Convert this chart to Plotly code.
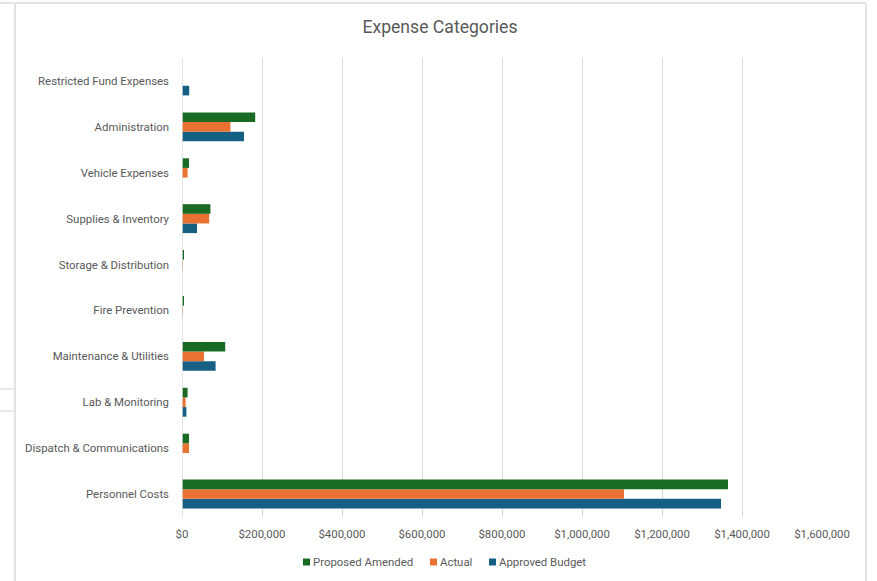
import plotly.graph_objects as go

# Expense categories, bottom to top as drawn on the category axis
categories = [
    "Personnel Costs",
    "Dispatch & Communications",
    "Lab & Monitoring",
    "Maintenance & Utilities",
    "Fire Prevention",
    "Storage & Distribution",
    "Supplies & Inventory",
    "Vehicle Expenses",
    "Administration",
    "Restricted Fund Expenses",
]

approved_budget = [1347500, 0, 11000, 84000, 0, 0, 37500, 0, 155000, 18000]
actual = [1105000, 17500, 9000, 55000, 2500, 2500, 68000, 14000, 121000, 0]
proposed_amended = [1365000, 17500, 14000, 108000, 3000, 3000, 71000, 17500, 183000, 0]

x_ticks = [0, 200000, 400000, 600000, 800000, 1000000, 1200000, 1400000, 1600000]
x_tick_labels = ["$0", "$200,000", "$400,000", "$600,000", "$800,000",
                 "$1,000,000", "$1,200,000", "$1,400,000", "$1,600,000"]

W, H = 877, 581
FONT = "Roboto, Arial, sans-serif"
TEXT = "#595959"
FS = 11.4

series = [
    ("Approved Budget", approved_budget, "#156082"),
    ("Actual", actual, "#E97132"),
    ("Proposed Amended", proposed_amended, "#196B24"),
]

fig = go.Figure()
for name, vals, color in series:
    fig.add_trace(go.Bar(
        name=name, y=categories, x=vals, orientation="h",
        marker=dict(color=color, line=dict(width=0)),
        showlegend=False,
    ))

L, R, T, B = 182, 55, 58, 64
pw, ph = W - L - R, H - T - B


def px(x):
    return (x - L) / pw


def py(y):
    return (H - B - y) / ph


frame = "#E3E3E3"
shapes = [
    dict(type="line", xref="paper", yref="paper", x0=px(0), x1=px(866), y0=py(3), y1=py(3),
         line=dict(color=frame, width=2)),
    dict(type="line", xref="paper", yref="paper", x0=px(15), x1=px(15), y0=py(3), y1=py(581),
         line=dict(color=frame, width=2)),
    dict(type="line", xref="paper", yref="paper", x0=px(866), x1=px(866), y0=py(3), y1=py(581),
         line=dict(color=frame, width=2)),
    dict(type="line", xref="paper", yref="paper", x0=px(0), x1=px(15), y0=py(389), y1=py(389),
         line=dict(color=frame, width=1.5)),
    dict(type="line", xref="paper", yref="paper", x0=px(0), x1=px(15), y0=py(411), y1=py(411),
         line=dict(color=frame, width=1.5)),
    # gray value-axis line at zero
    dict(type="line", xref="x", yref="paper", x0=0, x1=0, y0=0, y1=1,
         line=dict(color="#D9D9D9", width=1.5)),
]

# legend drawn as small square swatches with labels, in the series' legend order
legend_items = [
    ("Proposed Amended", "#196B24", 303),
    ("Actual", "#E97132", 430),
    ("Approved Budget", "#156082", 489),
]
annotations = []
ly = 562
for label, color, x0 in legend_items:
    shapes.append(dict(type="rect", xref="paper", yref="paper",
                       x0=px(x0), x1=px(x0 + 7), y0=py(ly - 3.5), y1=py(ly + 3.5),
                       fillcolor=color, line=dict(width=0)))
    annotations.append(dict(text=label, xref="paper", yref="paper",
                            x=px(x0 + 7.5), y=py(ly), xanchor="left", yanchor="middle",
                            showarrow=False, font=dict(family=FONT, size=FS, color=TEXT)))

fig.update_layout(
    width=W, height=H,
    margin=dict(l=L, r=R, t=T, b=B, autoexpand=False),
    paper_bgcolor="white", plot_bgcolor="white",
    barmode="group", bargap=0.37, bargroupgap=0,
    font=dict(family=FONT, size=FS, color=TEXT),
    title=dict(text="Expense Categories", x=440 / W, xref="container", xanchor="center",
               y=1 - 27 / H, yref="container", yanchor="middle",
               font=dict(family=FONT, size=17.6, color=TEXT)),
    xaxis=dict(range=[0, 1600000], tickvals=x_ticks, ticktext=x_tick_labels,
               showgrid=True, gridcolor="#D9D9D9", gridwidth=1,
               zeroline=False, showline=False, ticks="", ticklabelstandoff=9,
               tickfont=dict(size=FS, color=TEXT)),
    yaxis=dict(categoryorder="array", categoryarray=categories,
               showgrid=False, zeroline=False, ticks="",
               showline=False, ticklabelstandoff=12,
               tickfont=dict(size=FS, color=TEXT)),
    showlegend=False,
    shapes=shapes,
    annotations=annotations,
)

fig.write_html("out.html")
